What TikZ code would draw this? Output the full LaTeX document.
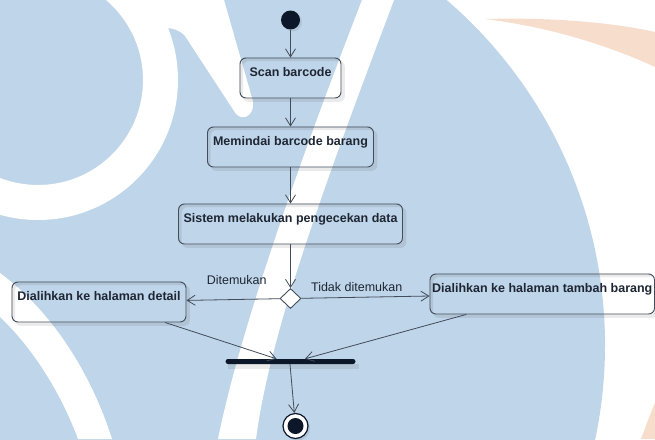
\documentclass[tikz,border=0pt]{standalone}
\usepackage{fontspec}
\setmainfont{Liberation Sans}
\usetikzlibrary{arrows.meta,shapes.geometric,calc}

\definecolor{wmblue}{RGB}{191,213,233}
\definecolor{wmpeach}{RGB}{247,221,204}
\definecolor{ink}{RGB}{12,24,42}
\definecolor{edge}{RGB}{66,76,90}
\definecolor{txt}{RGB}{30,38,52}

\pgfdeclarelayer{backdrop}
\pgfdeclarelayer{shadows}
\pgfsetlayers{backdrop,shadows,main}

\begin{document}
\begin{tikzpicture}[x=1pt,y=-1pt,
  act/.style={draw=edge, line width=0.9pt, rounded corners=6pt,
    inner xsep=0pt, inner ysep=0pt, minimum height=40pt,
    text height=18.5pt, text depth=21.5pt,
    font=\bfseries\fontsize{12.5}{14}\selectfont, text=txt},
  flow/.style={draw=edge, line width=0.8pt,
    -{Straight Barb[length=8pt,width=10pt]}},
  guard/.style={font=\fontsize{12.5}{14}\selectfont, text=txt,
    inner sep=0pt, anchor=base},
  shade/.style={fill=black, opacity=0.08, even odd rule}
]
\path[use as bounding box] (0,0) rectangle (655,439);

% ---- watermark backdrop ----
\begin{pgfonlayer}{backdrop}
\fill[white] (0,0) rectangle (655,439);
\begin{scope}
  \clip (0,0) rectangle (655,439);
  \fill[wmpeach] (485,19) .. controls (560,17) and (620,24) .. (655,32)
    -- (655,67) .. controls (610,46) and (550,27) .. (485,19) -- cycle;
  \fill[wmpeach] (655,403) -- (655,439) -- (641,439)
    .. controls (646,426) and (650,414) .. (655,403) -- cycle;
  \fill[wmblue] (150,345) circle[radius=455pt];
  \fill[white, even odd rule] (38,80) circle[radius=140pt] (38,80) circle[radius=105pt];
  \fill[white] (150,0) -- (224,0) -- (252,98)
    .. controls (257,112) and (245,123) .. (236,114) -- (185,36)
    .. controls (180,30) and (172,28) .. (165,28) -- cycle;
  \fill[white] (362,0) -- (394,0) .. controls (330,170) and (270,330) .. (256,439)
    -- (218,439) .. controls (240,330) and (300,160) .. (362,0) -- cycle;
  \fill[white] (0,273) .. controls (50,310) and (90,370) .. (112,439)
    -- (78,439) .. controls (60,390) and (30,345) .. (0,317) -- cycle;
\end{scope}
\end{pgfonlayer}

% ---- activity nodes ----
\node[circle, fill=ink, minimum size=19pt, inner sep=0pt] (start) at (290.5,20) {};
\node[act, minimum width=101pt] (scan) at (290.5,78) {Scan barcode};
\node[act, minimum width=166pt] (mem) at (290.5,147) {Memindai barcode barang};
\node[act, minimum width=224pt] (sis) at (290.5,224) {Sistem melakukan pengecekan data};
\node[diamond, draw=edge, fill=white, line width=0.9pt, aspect=1,
  minimum width=21pt, minimum height=20pt, inner sep=0pt] (dec) at (290.5,298.5) {};
\node[act, minimum width=174pt] (det) at (99,302) {Dialihkan ke halaman detail};
\node[act, minimum width=224.5pt] (tam) at (542.25,294) {Dialihkan ke halaman tambah barang};
\node[fill=ink, minimum width=130pt, minimum height=5pt, inner sep=0pt,
  rounded corners=2.5pt] (bar) at (290.5,361.5) {};
\node[circle, draw=ink, fill=white, line width=1.2pt, minimum size=25pt,
  inner sep=0pt] (end) at (295.5,426) {};
\node[circle, fill=ink, minimum size=16pt, inner sep=0pt] (endcore) at (end.center) {};

% ---- guard labels ----
\node[guard] (gyes) at (236.7,284) {Ditemukan};
\node[guard] (gno) at (356.7,291) {Tidak ditemukan};

% ---- shadows ----
\begin{pgfonlayer}{shadows}
\foreach \n in {scan,mem,sis,det,tam}{
  \fill[shade, rounded corners=6pt]
    ([shift={(3.5pt,-3.5pt)}]\n.north west) rectangle ([shift={(3.5pt,-3.5pt)}]\n.south east)
    (\n.north west) rectangle (\n.south east);
}
\fill[shade] ([shift={(3pt,-5pt)}]bar.north west) rectangle ([shift={(3pt,-5pt)}]bar.south east);
\fill[shade] ([shift={(2pt,-2pt)}]start.center) circle[radius=9.5pt];
\fill[shade] ([shift={(2pt,-2pt)}]end.center) circle[radius=12.5pt];
\end{pgfonlayer}

% ---- control flow ----
\draw[flow] (start) -- (scan);
\draw[flow] (scan) -- (mem);
\draw[flow] (mem) -- (sis);
\draw[flow] (sis) -- (dec);
\draw[flow] (dec) -- (det);
\draw[flow] (dec) -- (tam);
\draw[flow] ([xshift=66pt]det.south) -- ([xshift=-14pt]bar.north);
\draw[flow] ([xshift=-76pt]tam.south) -- ([xshift=14.5pt]bar.north);
\draw[flow] ([xshift=-0.5pt]bar.south) -- (end);
\end{tikzpicture}
\end{document}
